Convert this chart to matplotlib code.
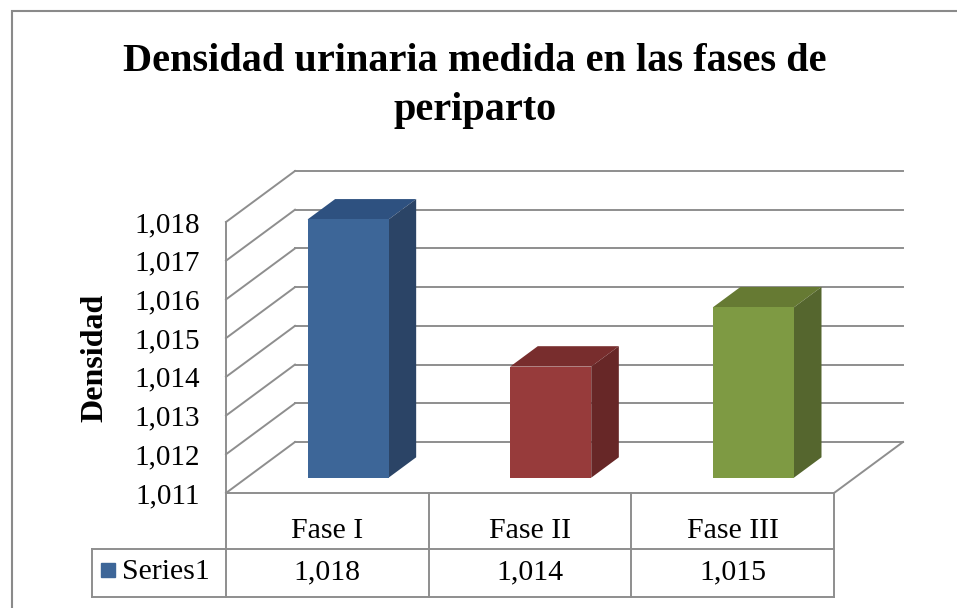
import matplotlib
matplotlib.use("Agg")
import matplotlib.pyplot as plt
from matplotlib.patches import Polygon, Rectangle
from matplotlib.ticker import FuncFormatter
import numpy as np

# ---- data ----
categories = ["Fase I", "Fase II", "Fase III"]
values = [1.01767, 1.01387, 1.01540]
table_labels = ["1,018", "1,014", "1,015"]
series_name = "Series1"
yticks = [1.011, 1.012, 1.013, 1.014, 1.015, 1.016, 1.017, 1.018]
title = "Densidad urinaria medida en las fases de\nperiparto"
ylabel = "Densidad"

front_cols = ["#3D6698", "#973B3B", "#7E9A43"]
side_cols = ["#2B4466", "#672727", "#55662E"]
top_cols = ["#2E5180", "#782D2D", "#667A33"]

W, H = 957, 608
fig = plt.figure(figsize=(W / 100, H / 100), dpi=100)
plt.rcParams['font.family'] = ['Liberation Serif', 'DejaVu Serif']

# front plane of plot area in pixels
L, R, B, T = 226, 834, 493, 222
ax = fig.add_axes([L / W, 1 - B / H, (R - L) / W, (B - T) / H])
ax.set_xlim(0, len(categories))
ax.set_ylim(yticks[0], yticks[-1])
for s in ax.spines.values():
    s.set_visible(False)
ax.set_xticks([])
ax.set_yticks(yticks)
ax.yaxis.set_major_formatter(FuncFormatter(lambda v, p: f"{v:.3f}".replace('.', ',')))
ax.tick_params(axis='y', length=0, pad=18.5, labelsize=21)
ax.set_facecolor('none')

# depth offset (pixels) -> data units
fig.canvas.draw()
p0 = ax.transData.transform((0, yticks[0]))
dd = ax.transData.inverted().transform(p0 + np.array([69, 51])) - np.array([0, yticks[0]])
DX, DY = dd


def P(x, v, f):
    return (x + DX * f, v + DY * f)


gc = "#8E8E8E"
glw = 1.4
n = len(categories)
# back wall gridlines and left wall diagonals
for v in yticks:
    a, b = P(0, v, 1), P(n, v, 1)
    ax.plot([a[0], b[0]], [a[1], b[1]], color=gc, lw=glw, clip_on=False, zorder=1)
    a, b = P(0, v, 0), P(0, v, 1)
    ax.plot([a[0], b[0]], [a[1], b[1]], color=gc, lw=glw, clip_on=False, zorder=1)
# floor right edge and front edge
a, b = P(n, yticks[0], 0), P(n, yticks[0], 1)
ax.plot([a[0], b[0]], [a[1], b[1]], color=gc, lw=glw, clip_on=False, zorder=1)
ax.plot([0, n], [yticks[0], yticks[0]], color=gc, lw=glw, clip_on=False, zorder=1)
# front vertical edge of left wall
ax.plot([0, 0], [yticks[0], yticks[-1]], color=gc, lw=glw, clip_on=False, zorder=1)

# bars
bw = 0.4
f0, f1 = 0.3, 0.7
for i, v in enumerate(values):
    x0, x1 = i + 0.5 - bw / 2, i + 0.5 + bw / 2
    base = yticks[0]
    top = Polygon([P(x0, v, f0), P(x1, v, f0), P(x1, v, f1), P(x0, v, f1)],
                  closed=True, facecolor=top_cols[i], edgecolor='none', zorder=3, clip_on=False)
    side = Polygon([P(x1, base, f0), P(x1, base, f1), P(x1, v, f1), P(x1, v, f0)],
                   closed=True, facecolor=side_cols[i], edgecolor='none', zorder=3, clip_on=False)
    front = Polygon([P(x0, base, f0), P(x1, base, f0), P(x1, v, f0), P(x0, v, f0)],
                    closed=True, facecolor=front_cols[i], edgecolor='none', zorder=4, clip_on=False)
    for p in (top, side, front):
        ax.add_patch(p)

# data table below
tr = ax.get_xaxis_transform()
px_per_cat = (R - L) / n


def yfrac(py):
    return (B - py) / (B - T)


def xdat(px):
    return (px - L) / px_per_cat


row1_bot, row2_bot = 549, 597
tbl_left = xdat(92)
for xc in range(n + 1):
    ax.plot([xc, xc], [0, yfrac(row2_bot)], color=gc, lw=glw, transform=tr, clip_on=False)
ax.plot([tbl_left, tbl_left], [yfrac(row1_bot), yfrac(row2_bot)], color=gc, lw=glw, transform=tr, clip_on=False)
for yy in (row1_bot, row2_bot):
    ax.plot([tbl_left, n], [yfrac(yy), yfrac(yy)], color=gc, lw=glw, transform=tr, clip_on=False)

tfs = 21.5
for i, c in enumerate(categories):
    ax.text(i + 0.5, yfrac(531), c, transform=tr, ha='center', va='center', fontsize=tfs)
    ax.text(i + 0.5, yfrac(572), table_labels[i], transform=tr, ha='center', va='center', fontsize=tfs)
ax.plot([xdat(108)], [yfrac(570)], marker='s', ms=10, color=front_cols[0], transform=tr, clip_on=False)
ax.text(xdat(122), yfrac(572), series_name, transform=tr, ha='left', va='center', fontsize=tfs)

# title and y label
fig.text(475 / W, 1 - 86 / H, title, ha='center', va='center', fontsize=29,
         fontweight='bold', linespacing=1.4)
fig.text(95 / W, 1 - 358 / H, ylabel, ha='center', va='center', rotation=90,
         fontsize=23, fontweight='bold')

# chart frame
fig.patches.append(Rectangle((12 / W, -0.1), 1.2, 1 - 11 / H + 0.1, transform=fig.transFigure,
                             fill=False, edgecolor="#8A8A8A", lw=1.5))

fig.savefig("out.png", dpi=100)
